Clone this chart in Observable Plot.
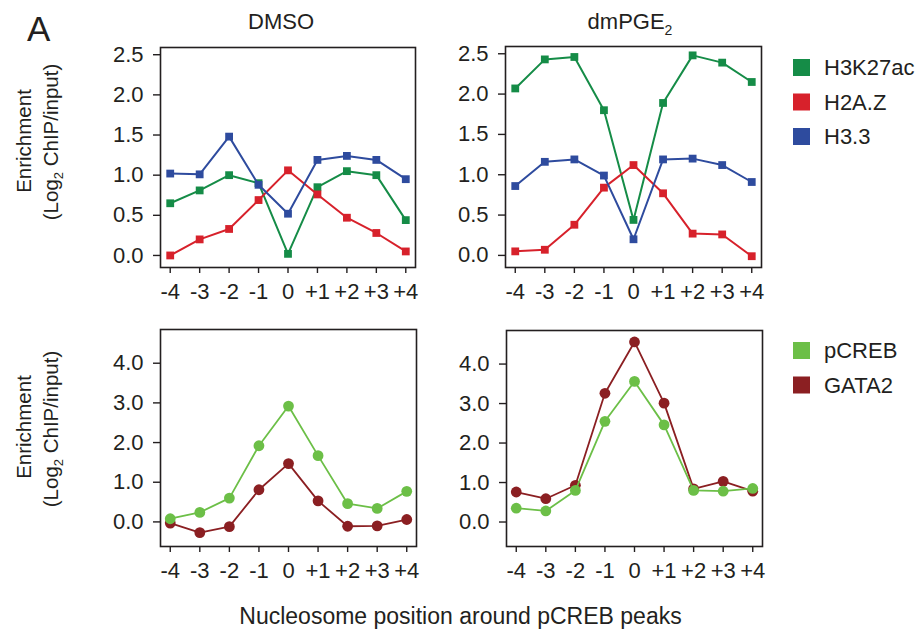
<!DOCTYPE html>
<html>
<head>
<meta charset="utf-8">
<script src="https://cdn.jsdelivr.net/npm/d3@7"></script>
<script src="https://cdn.jsdelivr.net/npm/@observablehq/plot@0.6"></script>
<style>
  html, body { margin: 0; padding: 0; background: #fff; }
  #chart { position: relative; width: 921px; height: 629px; overflow: hidden; font-family: "Liberation Sans", Arial, sans-serif; }
  .panel { position: absolute; }
  .panel svg { overflow: visible; }
  #overlay { position: absolute; left: 0; top: 0; pointer-events: none; }
</style>
</head>
<body>
<div id="chart"></div>
<script>
// ---------- data ----------
const positions = [-4, -3, -2, -1, 0, 1, 2, 3, 4];
const positionLabels = ["-4", "-3", "-2", "-1", "0", "+1", "+2", "+3", "+4"];

const histoneSeries = ["H3K27ac", "H2A.Z", "H3.3"];
const histoneColors = ["#158c47", "#d7212b", "#2e4b9e"];
const tfSeries = ["pCREB", "GATA2"];
const tfColors = ["#6cbf47", "#8b1f22"];

const histoneTicks = [0, 0.5, 1, 1.5, 2, 2.5];
const tfTicks = [0, 1, 2, 3, 4];

// DMSO, histone marks
const dmsoH3K27ac = [0.65, 0.81, 1.00, 0.90, 0.02, 0.85, 1.05, 1.00, 0.44];
const dmsoH2AZ    = [0.00, 0.20, 0.33, 0.69, 1.06, 0.76, 0.47, 0.28, 0.05];
const dmsoH33     = [1.02, 1.01, 1.48, 0.88, 0.52, 1.19, 1.24, 1.19, 0.95];
// dmPGE2, histone marks
const pgeH3K27ac  = [2.07, 2.43, 2.46, 1.80, 0.44, 1.89, 2.48, 2.39, 2.15];
const pgeH2AZ     = [0.05, 0.07, 0.38, 0.84, 1.12, 0.77, 0.27, 0.26, -0.01];
const pgeH33      = [0.86, 1.16, 1.19, 0.99, 0.20, 1.19, 1.20, 1.12, 0.91];
// DMSO, transcription factors
const dmsoPCREB   = [0.08, 0.24, 0.60, 1.92, 2.92, 1.67, 0.46, 0.34, 0.77];
const dmsoGATA2   = [-0.03, -0.27, -0.12, 0.81, 1.47, 0.53, -0.11, -0.10, 0.06];
// dmPGE2, transcription factors
const pgePCREB    = [0.35, 0.28, 0.80, 2.55, 3.56, 2.46, 0.80, 0.78, 0.85];
const pgeGATA2    = [0.76, 0.59, 0.93, 3.26, 4.56, 3.01, 0.84, 1.03, 0.78];

// ---------- helpers ----------
const FONT = '"Liberation Sans", Arial, sans-serif';
const INK = "#231f20";
const chart = document.getElementById("chart");

function tidy(names, arrays) {
  const rows = [];
  names.forEach((name, i) => {
    arrays[i].forEach((v, j) => rows.push({series: name, pos: positions[j], value: v}));
  });
  return rows;
}

function panel({frame, names, colors, arrays, order, yDomain, yTicks, symbol, r, lineWidth}) {
  const ml = 80, mt = 20, mr = 20, mb = 60;
  const width = frame.right - frame.left + ml + mr;
  const height = frame.bottom - frame.top + mt + mb;
  const rows = tidy(names, arrays);
  const marks = [
    Plot.frame({stroke: INK, strokeWidth: 1.6}),
    Plot.axisX({ticks: positions, tickFormat: d => positionLabels[positions.indexOf(d)],
      tickSize: 6, tickPadding: 10, label: null, strokeWidth: 1.4}),
    Plot.axisY({ticks: yTicks, tickFormat: d3.format(".1f"), tickSize: 7, tickPadding: 10,
      label: null, strokeWidth: 1.4})
  ];
  for (const name of order) {
    const c = colors[names.indexOf(name)];
    const d = rows.filter(row => row.series === name);
    marks.push(Plot.line(d, {x: "pos", y: "value", stroke: c, strokeWidth: lineWidth}));
    marks.push(Plot.dot(d, {x: "pos", y: "value", fill: c, stroke: "none", symbol, r}));
  }
  const svg = Plot.plot({
    width, height,
    marginLeft: ml, marginTop: mt, marginRight: mr, marginBottom: mb,
    x: {domain: [-4.33, 4.33]},
    y: {domain: yDomain},
    style: {fontFamily: FONT, fontSize: "22px", color: INK, background: "transparent", overflow: "visible"},
    marks
  });
  const div = document.createElement("div");
  div.className = "panel";
  div.style.left = (frame.left - ml) + "px";
  div.style.top = (frame.top - mt) + "px";
  div.style.width = width + "px";
  div.appendChild(svg);
  chart.appendChild(div);
}

const histDomain = [-0.15, 2.59];
const tfDomain = [-0.62, 4.85];

panel({frame: {left: 160, top: 47, right: 415, bottom: 267}, names: histoneSeries, colors: histoneColors,
  arrays: [dmsoH3K27ac, dmsoH2AZ, dmsoH33], order: ["H3K27ac", "H2A.Z", "H3.3"],
  yDomain: histDomain, yTicks: histoneTicks, symbol: "square", r: 4.4, lineWidth: 2});
panel({frame: {left: 505, top: 46, right: 761, bottom: 267}, names: histoneSeries, colors: histoneColors,
  arrays: [pgeH3K27ac, pgeH2AZ, pgeH33], order: ["H3K27ac", "H2A.Z", "H3.3"],
  yDomain: histDomain, yTicks: histoneTicks, symbol: "square", r: 4.4, lineWidth: 2});
panel({frame: {left: 160, top: 329, right: 416, bottom: 546}, names: tfSeries, colors: tfColors,
  arrays: [dmsoPCREB, dmsoGATA2], order: ["GATA2", "pCREB"],
  yDomain: tfDomain, yTicks: tfTicks, symbol: "circle", r: 5.4, lineWidth: 1.8});
panel({frame: {left: 506, top: 330, right: 762, bottom: 546}, names: tfSeries, colors: tfColors,
  arrays: [pgePCREB, pgeGATA2], order: ["GATA2", "pCREB"],
  yDomain: tfDomain, yTicks: tfTicks, symbol: "circle", r: 5.4, lineWidth: 1.8});

// ---------- text overlay ----------
const ov = d3.select(chart).append("svg").attr("id", "overlay")
  .attr("width", 921).attr("height", 629)
  .style("font-family", FONT).attr("fill", INK);

ov.append("text").attr("x", 27).attr("y", 41).attr("font-size", 35).text("A");
ov.append("text").attr("x", 281).attr("y", 29).attr("font-size", 22).attr("text-anchor", "middle").text("DMSO");
const t2 = ov.append("text").attr("x", 630).attr("y", 29).attr("font-size", 22).attr("text-anchor", "middle");
t2.append("tspan").text("dmPGE");
t2.append("tspan").attr("font-size", 14).attr("dy", 6).text("2");

function ylab(cy1, cy2) {
  ov.append("text").attr("transform", `translate(31,${cy1}) rotate(-90)`).attr("font-size", 20.5)
    .attr("text-anchor", "middle").text("Enrichment");
  const t = ov.append("text").attr("transform", `translate(58,${cy2}) rotate(-90)`).attr("font-size", 20.5)
    .attr("text-anchor", "middle");
  t.append("tspan").text("(Log");
  t.append("tspan").attr("font-size", 13).attr("dy", 5).text("2");
  t.append("tspan").attr("dy", -5).text(" ChIP/input)");
}
ylab(141, 142);
ylab(427, 429);

ov.append("text").attr("x", 460.5).attr("y", 624).attr("font-size", 23).attr("text-anchor", "middle")
  .text("Nucleosome position around pCREB peaks");

function legend(names, colors, top0) {
  names.forEach((n, i) => {
    const top = top0 + i * 34.5;
    ov.append("rect").attr("x", 793).attr("y", top).attr("width", 17).attr("height", 17).attr("fill", colors[i]);
    ov.append("text").attr("x", 824).attr("y", top + 16).attr("font-size", 22).text(n);
  });
}
legend(histoneSeries, histoneColors, 59);
legend(tfSeries, tfColors, 342);
</script>
</body>
</html>
